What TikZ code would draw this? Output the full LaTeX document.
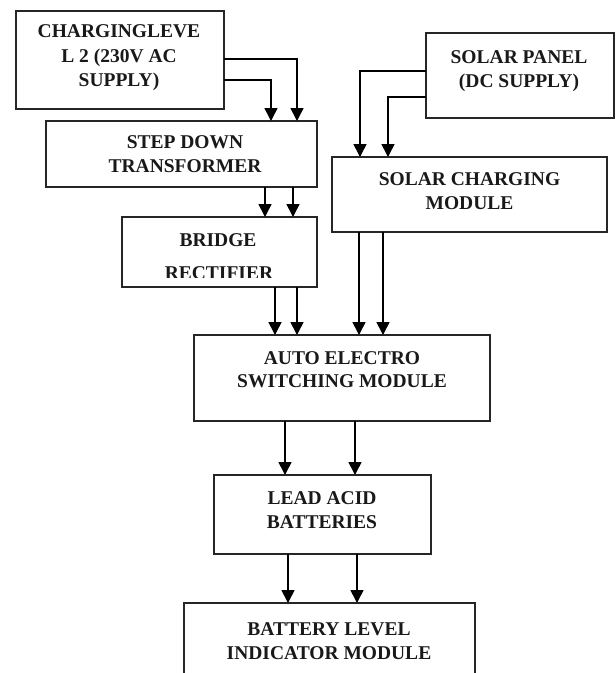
\documentclass[tikz,border=0pt]{standalone}
\usepackage{fontspec}
\setmainfont{Liberation Serif}
\usetikzlibrary{arrows.meta}
\begin{document}
\begin{tikzpicture}[x=1pt,y=-1pt,
  blk/.style={draw=black!85,line width=1.4pt,rectangle,inner sep=0pt,outer sep=0pt,fill=white},
  lbl/.style={align=center,inner sep=0pt,font=\fontsize{19.5}{23.5}\selectfont\bfseries,text=black!90},
  arr/.style={line width=1.6pt,draw=black,-{Triangle[width=13pt,length=13pt]}},
  ln/.style={line width=1.6pt,draw=black}]
\useasboundingbox (0,0) rectangle (616,673);
\clip (0,0) rectangle (616,673);
% boxes
\node[blk,minimum width=208pt,minimum height=98pt] (b1) at (120,60) {};
\node[blk,minimum width=271pt,minimum height=66pt] (b2) at (181.5,154) {};
\node[blk,minimum width=195pt,minimum height=70pt] (b3) at (219.5,252) {};
\node[blk,minimum width=188pt,minimum height=85pt] (b4) at (520,75.5) {};
\node[blk,minimum width=275pt,minimum height=75pt] (b5) at (469.5,194.5) {};
\node[blk,minimum width=296pt,minimum height=86pt] (b6) at (342,378) {};
\node[blk,minimum width=217pt,minimum height=79pt] (b7) at (322.5,514.5) {};
\node[blk,minimum width=291pt,minimum height=87pt] (b8) at (329.5,646.5) {};
% texts
\node[lbl,font=\fontsize{19.5}{24.5}\selectfont\bfseries] (t1) at (119,58) {CHARGINGLEVE\\L 2 (230V AC\\SUPPLY)};
\node[lbl] (t2) at (185,154) {STEP DOWN\\TRANSFORMER};
\node[lbl] (t3) at (218,240) {BRIDGE};
\begin{scope}
\clip (122,217) rectangle (317,277.5);
\node[lbl] (t3b) at (219,273.5) {RECTIFIER};
\end{scope}
\node[lbl] (t4) at (519,71) {SOLAR PANEL\\(DC SUPPLY)};
\node[lbl] (t5) at (469.5,191) {SOLAR CHARGING\\MODULE};
\node[lbl] (t6) at (342,369.5) {AUTO ELECTRO\\SWITCHING MODULE};
\node[lbl] (t7) at (322,510) {LEAD ACID\\BATTERIES};
\node[lbl] (t8) at (329,641) {BATTERY LEVEL\\INDICATOR MODULE};
% connectors
\draw[arr] (b1.east |- 0,59) -| (b2.north -| 297,0);
\draw[arr] (b1.east |- 0,80) -| (b2.north -| 271,0);
\draw[arr] (b2.south -| 265,0) -- (b3.north -| 265,0);
\draw[arr] (b2.south -| 293,0) -- (b3.north -| 293,0);
\draw[arr] (b3.south -| 275,0) -- (b6.north -| 275,0);
\draw[arr] (b3.south -| 297,0) -- (b6.north -| 297,0);
\draw[arr] (b4.west |- 0,71) -| (b5.north -| 360,0);
\draw[arr] (b4.west |- 0,97) -| (b5.north -| 388,0);
\draw[arr] (b5.south -| 359,0) -- (b6.north -| 359,0);
\draw[arr] (b5.south -| 383,0) -- (b6.north -| 383,0);
\draw[arr] (b6.south -| 285,0) -- (b7.north -| 285,0);
\draw[arr] (b6.south -| 355,0) -- (b7.north -| 355,0);
\draw[arr] (b7.south -| 288,0) -- (b8.north -| 288,0);
\draw[arr] (b7.south -| 357,0) -- (b8.north -| 357,0);
\end{tikzpicture}
\end{document}
